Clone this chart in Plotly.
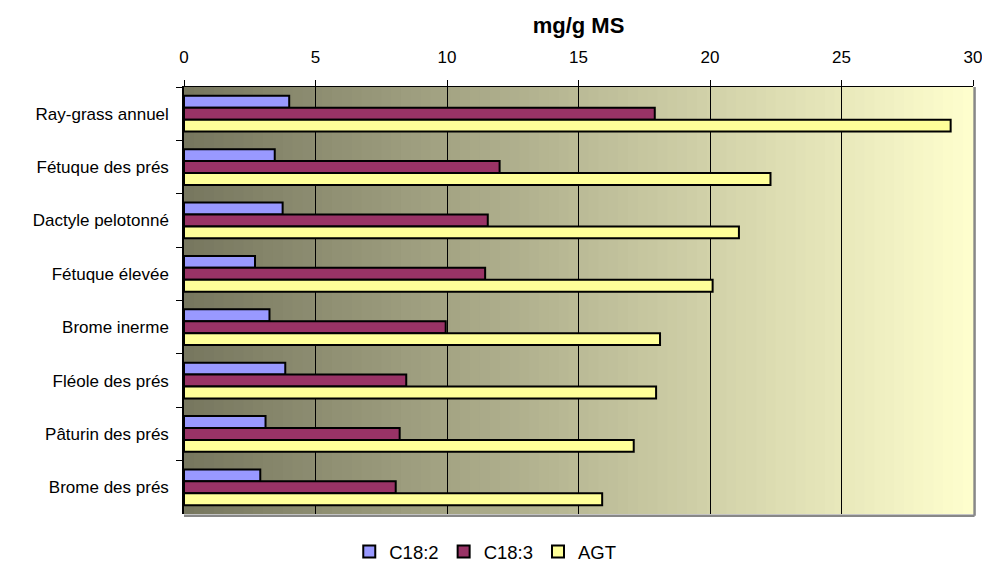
import plotly.graph_objects as go

categories = ["Ray-grass annuel", "Fétuque des prés", "Dactyle pelotonné", "Fétuque élevée",
              "Brome inerme", "Fléole des prés", "Pâturin des prés", "Brome des prés"]
c18_2 = [4.0, 3.45, 3.75, 2.7, 3.25, 3.85, 3.1, 2.9]
c18_3 = [17.9, 12.0, 11.55, 11.45, 9.95, 8.45, 8.2, 8.05]
agt = [29.15, 22.3, 21.1, 20.1, 18.1, 17.95, 17.1, 15.9]
x_ticks = [0, 5, 10, 15, 20, 25, 30]

series = [("C18:2", c18_2, "#9999FF"), ("C18:3", c18_3, "#993366"), ("AGT", agt, "#FFFF99")]

fig = go.Figure()
for name, vals, col in series:
    fig.add_trace(go.Bar(
        y=categories, x=vals, name=name, orientation="h",
        marker=dict(color=col, line=dict(color="black", width=2)),
    ))

# gradient background (dark olive -> pale yellow)
N = 80
c0 = (118, 118, 94)
c1 = (255, 255, 206)
shapes = []
for i in range(N):
    t = (i + 0.5) / N
    r, g, b = (round(c0[k] + (c1[k] - c0[k]) * t) for k in range(3))
    shapes.append(dict(type="rect", xref="x domain", yref="y domain",
                       x0=i / N, x1=(i + 1) / N + 0.002, y0=0, y1=1,
                       fillcolor=f"rgb({r},{g},{b})", line=dict(width=0), layer="below"))
# grey border right and bottom
shapes.append(dict(type="line", xref="x domain", yref="y domain", x0=1.002, x1=1.002, y0=-0.004, y1=1,
                   line=dict(color="#888888", width=2.5), layer="above"))
shapes.append(dict(type="line", xref="x domain", yref="y domain", x0=0, x1=1.002, y0=-0.004, y1=-0.004,
                   line=dict(color="#888888", width=2.5), layer="above"))

# page body has an 8px default margin: size/margins compensate for it (no scrollbars)
fig.update_layout(
    width=974, height=555,
    margin=dict(l=176, r=9, t=79, b=49, autoexpand=False),
    paper_bgcolor="white", plot_bgcolor="white",
    barmode="group", bargap=0.33, bargroupgap=0,
    font=dict(family="Liberation Sans, Arial, sans-serif", size=17, color="black"),
    shapes=shapes,
    showlegend=True,
    legend=dict(orientation="h", xref="container", yref="container",
                x=0.49, xanchor="center", y=0.02, yanchor="middle",
                font=dict(size=18.5), traceorder="normal", itemwidth=30,
                tracegroupgap=0),
    xaxis=dict(side="top", range=[0, 30], tickvals=x_ticks, ticktext=[str(v) for v in x_ticks],
               showgrid=True, gridcolor="black", gridwidth=1,
               showline=True, linecolor="black", linewidth=1,
               ticks="outside", ticklen=6, tickcolor="black", ticklabelstandoff=10,
               ticklabeloverflow="allow",
               zeroline=False, automargin=False,
               title=dict(text="<b>mg/g MS</b>", font=dict(size=22), standoff=8)),
    yaxis=dict(autorange="reversed", showgrid=False, showline=True, linecolor="black", linewidth=1.5,
               ticks="outside", ticklen=6, tickcolor="black", tickson="boundaries",
               ticklabelstandoff=10, automargin=False),
)

fig.write_html("out.html")
